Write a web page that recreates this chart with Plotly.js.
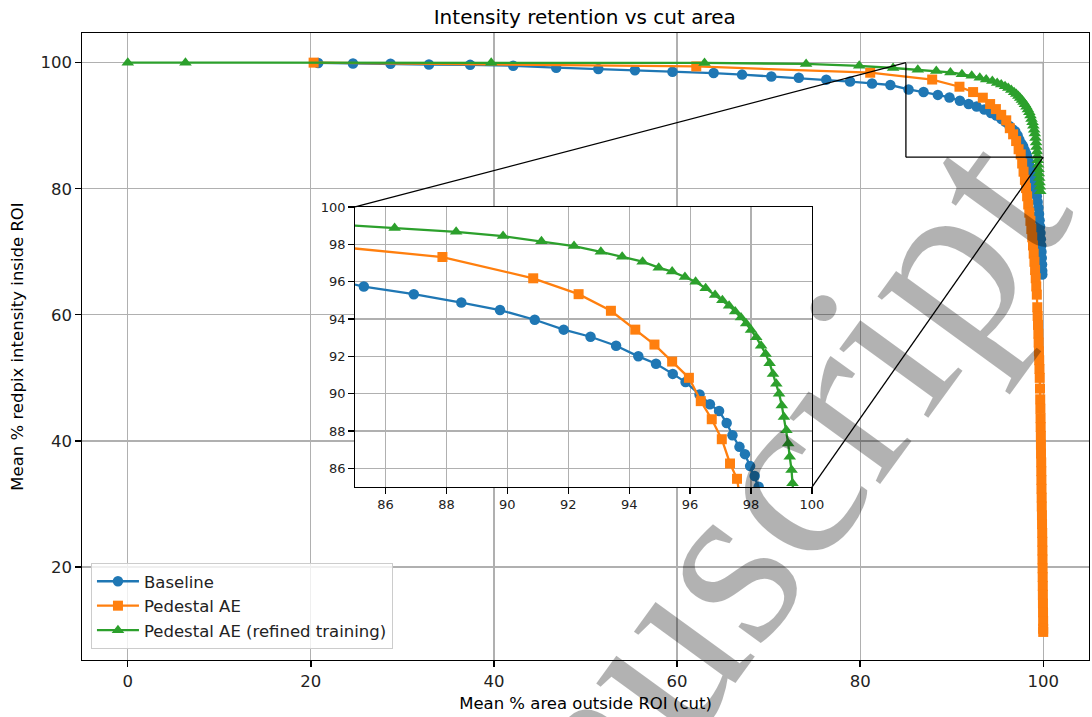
<!DOCTYPE html>
<html>
<head>
<meta charset="utf-8">
<script src="https://cdn.plot.ly/plotly-3.0.1.min.js"></script>
<style>html,body{margin:0;padding:0;background:#fff;}#chart{width:1092px;height:717px;}</style>
</head>
<body>
<div id="chart"></div>
<script>
// ---- data ----
const seriesNames = ["Baseline", "Pedestal AE", "Pedestal AE (refined training)"];

const baselineX = [20.8, 24.6, 28.7, 32.9, 37.4, 42.1, 46.8, 51.4, 55.4, 59.5, 64.0, 67.1, 70.3, 73.3, 76.3, 78.9, 81.3, 83.3,
  85.29, 86.93, 88.49, 89.76, 90.90, 91.85, 92.73, 93.57, 94.30, 94.88, 95.43, 95.85, 96.31, 96.65, 96.95, 97.20, 97.39, 97.62, 97.80, 97.97, 98.12, 98.25,
  98.45, 98.62, 98.78, 98.93, 99.07, 99.2, 99.3, 99.39, 99.47, 99.54, 99.6, 99.65, 99.7, 99.74, 99.78, 99.81, 99.84, 99.87, 99.89, 99.9];
const baselineY = [99.95, 99.85, 99.82, 99.7, 99.65, 99.5, 99.2, 99.0, 98.8, 98.55, 98.35, 98.1, 97.8, 97.6, 97.3, 97.0, 96.7, 96.45,
  95.74, 95.33, 94.88, 94.48, 93.96, 93.43, 93.05, 92.57, 92.0, 91.6, 91.06, 90.62, 89.96, 89.43, 89.07, 88.43, 87.77, 87.15, 86.76, 86.12, 85.59, 85.02,
  84.2, 83.3, 82.4, 81.5, 80.6, 79.7, 78.8, 77.9, 77.0, 76.0, 75.0, 74.0, 73.0, 72.0, 71.0, 70.0, 69.0, 68.0, 67.0, 66.4];

const pedestalX = [20.3, 62.1, 81.1, 87.87, 90.85, 92.34, 93.40, 94.20, 94.83, 95.41, 95.96, 96.35, 96.71, 97.04, 97.31, 97.54,
  97.7, 97.85, 98.0, 98.12, 98.24, 98.36, 98.48, 98.6, 98.7, 98.8, 98.88, 98.96, 99.04, 99.11, 99.18, 99.24, 99.3,
  99.35, 99.39, 99.43, 99.47, 99.5, 99.53, 99.56, 99.59, 99.62, 99.65, 99.67, 99.69, 99.71, 99.72, 99.74, 99.75, 99.76,
  99.78, 99.79, 99.8, 99.81, 99.83, 99.84, 99.86, 99.87, 99.89, 99.9, 99.91, 99.92, 99.93, 99.94, 99.95, 99.96, 99.97,
  99.98, 99.99, 99.99, 100.0];
const pedestalY = [100, 99.4, 98.4, 97.32, 96.18, 95.33, 94.44, 93.43, 92.63, 91.72, 90.85, 89.60, 88.63, 87.56, 86.26, 85.44,
  84.0, 82.7, 81.4, 80.1, 78.8, 77.5, 76.2, 74.9, 73.6, 72.3, 71.0, 69.7, 68.4, 67.1, 65.8, 64.5, 63.2,
  61.2, 59.8, 58.4, 57.0, 55.6, 54.2, 52.8, 51.4, 50.0, 48.3, 46.6, 45.1, 43.6, 42.2, 40.8, 39.4, 38.0,
  36.6, 35.2, 33.8, 32.4, 31.0, 29.6, 28.2, 26.8, 25.4, 24.0, 22.6, 21.2, 19.8, 18.4, 17.0, 15.6, 14.2,
  12.8, 11.4, 10.2, 9.7];

const refinedX = [0, 6.3, 39.7, 63.0, 74.1, 79.9, 83.6, 86.30, 88.32, 89.86, 91.12, 92.19, 93.07, 93.77, 94.44, 94.97, 95.41, 95.83, 96.18,
  96.51, 96.82, 97.06, 97.28, 97.48, 97.67, 97.84, 98.0, 98.17, 98.33, 98.48, 98.61, 98.72, 98.83, 98.92, 99.01, 99.08, 99.16, 99.22,
  99.27, 99.33, 99.36, 99.4, 99.44, 99.48, 99.52, 99.56, 99.6, 99.64, 99.68];
const refinedY = [100, 100, 99.98, 99.95, 99.8, 99.5, 99.15, 98.88, 98.67, 98.44, 98.16, 97.91, 97.60, 97.34, 97.07, 96.75, 96.54, 96.25, 95.99,
  95.65, 95.29, 95.01, 94.71, 94.40, 94.08, 93.76, 93.41, 93.02, 92.57, 92.13, 91.63, 91.06, 90.53, 90.0, 89.37, 88.75, 88.04, 87.33,
  86.62, 85.91, 85.2, 84.5, 83.8, 83.1, 82.4, 81.7, 81.0, 80.3, 79.6];

const mainXTicks = [0, 20, 40, 60, 80, 100];
const mainYTicks = [20, 40, 60, 80, 100];
const insetTicks = [86, 88, 90, 92, 94, 96, 98, 100];
const zoomBox = {x0: 85, x1: 100, y0: 85, y1: 100};

// ---- styling ----
const colors = ["#1f77b4", "#ff7f0e", "#2ca02c"];
const symbols = ["circle", "square", "triangle-up"];
const msizes = [10.5, 10, 11];
const FONT = "DejaVu Sans, Verdana, sans-serif";

const mainXRange = [-5, 105];
const mainYRange = [5.25, 104.7];
const insetDomX = [0.2711, 0.7249];
const insetDomY = [0.2759, 0.7225];

const series = [[baselineX, baselineY], [pedestalX, pedestalY], [refinedX, refinedY]];
const traces = [];
series.forEach((s, i) => {
  traces.push({
    x: s[0], y: s[1], type: "scatter", mode: "lines+markers", name: seriesNames[i],
    line: {color: colors[i], width: 2.3},
    marker: {color: colors[i], symbol: symbols[i], size: msizes[i]},
    xaxis: "x", yaxis: "y"
  });
});
series.forEach((s, i) => {
  traces.push({
    x: s[0], y: s[1], type: "scatter", mode: "lines+markers", name: seriesNames[i], showlegend: false,
    line: {color: colors[i], width: 2.3},
    marker: {color: colors[i], symbol: symbols[i], size: msizes[i]},
    xaxis: "x2", yaxis: "y2"
  });
});

function px(v) { return (v - mainXRange[0]) / (mainXRange[1] - mainXRange[0]); }
function py(v) { return (v - mainYRange[0]) / (mainYRange[1] - mainYRange[0]); }

const shapes = [
  {type: "line", xref: "x", yref: "y", x0: zoomBox.x0, y0: zoomBox.y0, x1: zoomBox.x0, y1: zoomBox.y1, line: {color: "#000", width: 1.3}},
  {type: "line", xref: "x", yref: "y", x0: zoomBox.x0, y0: zoomBox.y0, x1: zoomBox.x1, y1: zoomBox.y0, line: {color: "#000", width: 1.3}},
  {type: "line", xref: "x", yref: "y", x0: zoomBox.x0, y0: zoomBox.y1, x1: zoomBox.x1, y1: zoomBox.y1, line: {color: "#a8a8a8", width: 1.6}},
  {type: "line", xref: "x", yref: "y", x0: zoomBox.x1, y0: zoomBox.y0, x1: zoomBox.x1, y1: zoomBox.y1, line: {color: "#a8a8a8", width: 1.6}},
  {type: "line", xref: "paper", yref: "paper", x0: px(zoomBox.x0), y0: py(zoomBox.y1), x1: insetDomX[0], y1: insetDomY[1], line: {color: "#000", width: 1.3}},
  {type: "line", xref: "paper", yref: "paper", x0: px(zoomBox.x1), y0: py(zoomBox.y0), x1: insetDomX[1], y1: insetDomY[0], line: {color: "#000", width: 1.3}}
];

const axisCommon = {
  showline: true, mirror: true, linecolor: "#000", linewidth: 1.3,
  ticks: "outside", ticklen: 5.5, tickwidth: 1.3, tickcolor: "#000",
  showgrid: true, gridcolor: "#b0b0b0", gridwidth: 1.2, zeroline: false
};

const layout = {
  width: 1092, height: 717,
  margin: {l: 82, r: 3, t: 33, b: 57},
  paper_bgcolor: "#fff", plot_bgcolor: "#fff",
  font: {family: FONT, color: "#000", size: 16.5},
  title: {text: "Intensity retention vs cut area", font: {family: FONT, size: 20, color: "#000"}, x: 0.5355, xanchor: "center", y: 0.976, yanchor: "middle"},
  xaxis: Object.assign({}, axisCommon, {
    range: mainXRange, tickvals: mainXTicks, ticktext: mainXTicks.map(String),
    tickfont: {family: FONT, size: 16.5, color: "#222"},
    title: {text: "Mean % area outside ROI (cut)", font: {family: FONT, size: 16.5, color: "#000"}, standoff: 8}
  }),
  yaxis: Object.assign({}, axisCommon, {
    range: mainYRange, tickvals: mainYTicks, ticktext: mainYTicks.map(String),
    tickfont: {family: FONT, size: 16.5, color: "#222"},
    title: {text: "Mean % redpix intensity inside ROI", font: {family: FONT, size: 16.5, color: "#000"}, standoff: 12}
  }),
  xaxis2: Object.assign({}, axisCommon, {
    domain: insetDomX, anchor: "y2", range: [85, 100], tickvals: insetTicks, ticktext: insetTicks.map(String),
    tickfont: {family: FONT, size: 13, color: "#222"}
  }),
  yaxis2: Object.assign({}, axisCommon, {
    domain: insetDomY, anchor: "x2", range: [85, 100], tickvals: insetTicks, ticktext: insetTicks.map(String),
    tickfont: {family: FONT, size: 13, color: "#222"}
  }),
  legend: {
    x: 0.0089, y: 0.1547, xanchor: "left", yanchor: "top",
    bgcolor: "rgba(255,255,255,0.8)", bordercolor: "#cccccc", borderwidth: 1,
    font: {family: FONT, size: 16.5, color: "#222"}, itemwidth: 42, tracegroupgap: 0
  },
  shapes: shapes,
  annotations: [{
    text: "Manuscript", xref: "paper", yref: "paper", x: 0.5968, y: 0.0702, showarrow: false,
    textangle: -54, font: {family: "Liberation Serif, DejaVu Serif, serif", size: 245, color: "rgba(0,0,0,0.3)"},
    xanchor: "center", yanchor: "middle"
  }]
};

Plotly.newPlot("chart", traces, layout, {displayModeBar: false, staticPlot: true});
</script>
</body>
</html>
